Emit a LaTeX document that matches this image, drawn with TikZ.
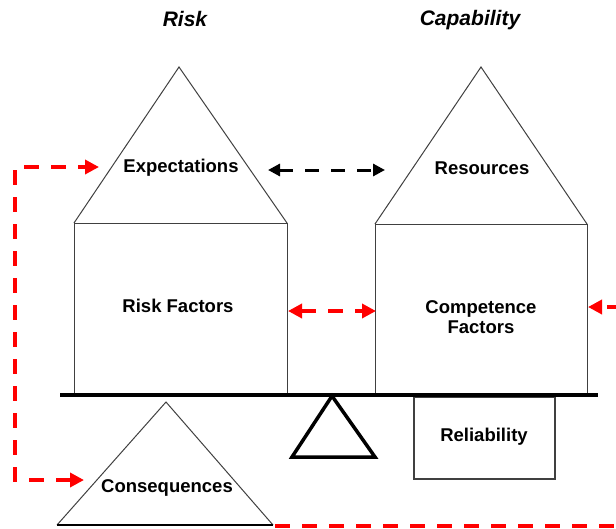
\documentclass[tikz,border=0pt]{standalone}
\usepackage{fontspec}
\setmainfont{Liberation Sans}
\usetikzlibrary{arrows.meta}
\begin{document}
\begin{tikzpicture}[x=1pt,y=-1pt,
  outline/.style={draw=black!75, line width=1pt, line join=miter},
  lbl/.style={font=\fontsize{18.5}{20.5}\selectfont\bfseries, align=center, inner sep=0pt},
  ttl/.style={font=\fontsize{21}{24}\selectfont\bfseries\itshape, inner sep=0pt},
  redlink/.style={draw=red, line width=3.5pt, dash pattern=on 15pt off 12pt},
  blacklink/.style={draw=black, line width=3pt, dash pattern=on 14pt off 12pt},
  tip/.tip={Triangle[length=14pt,width=14pt]},
  btip/.tip={Triangle[length=12pt,width=12pt]}
]
\useasboundingbox (0,0) rectangle (616,528);

% titles
\node[ttl] (risktitle) at (185,19) {Risk};
\node[ttl] (captitle) at (470,20) {Capability};

% left house: roof and body
\draw[outline] (74,223) -- (179,67) -- (287,223);
\draw[outline] (74,223) rectangle (287,393);
% right house: roof and body
\draw[outline] (375,224) -- (481,67) -- (587,224);
\draw[outline] (375,224) rectangle (587,393);

% reliability box under the beam
\draw[outline, line width=1.3pt] (414,397) rectangle (555,479);

% consequences triangle
\draw[outline] (57,525) -- (166,402) -- (273,525);
\draw[black, line width=1.6pt] (57,525) -- (273,525);

% fulcrum and beam
\draw[black, line width=3.5pt, line join=miter] (332,396) -- (375,457) -- (292,457) -- cycle;
\draw[black, line width=4pt] (60,395) -- (598,395);

% labels
\node[lbl] (expect) at (181,168) {Expectations};
\node[lbl] (resources) at (482,168) {Resources};
\node[lbl] (riskfac) at (178,306) {Risk Factors};
\node[lbl] (compfac) at (481,317) {Competence\\Factors};
\node[lbl] (reliab) at (484,437) {Reliability};
\node[lbl] (conseq) at (167,488) {Consequences};

% connector end points
\coordinate (expin) at (99,167);
\coordinate (conseqin) at (84,480);
\coordinate (rail) at (15,300);
\coordinate (riskR) at (288,311);
\coordinate (compL) at (376,311);
\coordinate (expR) at (268,170);
\coordinate (resL) at (385,170);
\coordinate (rightin) at (588,307);
\coordinate (rightout) at (622,307);
\coordinate (conbase) at (275,526);
\coordinate (bottomout) at (622,526);

% connectors
\draw[redlink, tip-tip] (conseqin) -| (rail |- expin) -- (expin);
\draw[redlink, tip-tip] (riskR) -- (compL);
\draw[redlink, -tip] (rightout) -- (rightin);
\draw[redlink] (conbase) -- (bottomout);
\draw[blacklink, btip-btip] (expR) -- (resL);
\end{tikzpicture}
\end{document}
